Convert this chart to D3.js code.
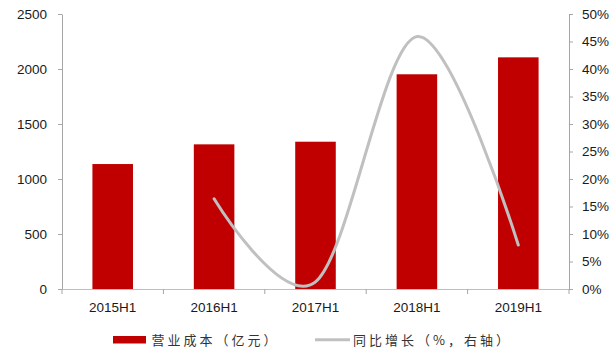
<!DOCTYPE html>
<html>
<head>
<meta charset="utf-8">
<script src="https://cdn.jsdelivr.net/npm/d3@7"></script>
<style>
  html, body { margin: 0; padding: 0; background: #fff; }
  svg { display: block; }
</style>
</head>
<body>
<svg id="chart" width="616" height="354"></svg>
<script>
// Half-year operating cost (亿元) and YoY growth (%)
const categories = ["2015H1", "2016H1", "2017H1", "2018H1", "2019H1"];
const costValues = [1136, 1315, 1339, 1952, 2106];
const growthCategories = ["2016H1", "2017H1", "2018H1", "2019H1"];
const growthValues = [16.4, 1.3, 45.9, 8.0];
const leftTicks = [0, 500, 1000, 1500, 2000, 2500];
const rightTicks = [0, 5, 10, 15, 20, 25, 30, 35, 40, 45, 50];
const legendLabels = ["营业成本（亿元）", "同比增长（%，右轴）"];

const svg = d3.select("#chart");
const plot = { left: 62, right: 569, top: 14, bottom: 289 };
const tickFont = "'Liberation Sans', Arial, sans-serif";

const x = d3.scaleBand().domain(categories).range([plot.left, plot.right]).padding(0);
const yL = d3.scaleLinear().domain([0, 2500]).range([plot.bottom, plot.top]);
const yR = d3.scaleLinear().domain([0, 50]).range([plot.bottom, plot.top]);

const barW = x.bandwidth() * 0.4;

// Bars
svg.append("g").selectAll("rect")
  .data(categories.map((c, i) => ({ c, v: costValues[i] })))
  .join("rect")
  .attr("x", d => x(d.c) + (x.bandwidth() - barW) / 2)
  .attr("y", d => yL(d.v))
  .attr("width", barW)
  .attr("height", d => yL(0) - yL(d.v))
  .attr("fill", "#c00000");

// X axis
const xAxis = svg.append("g")
  .attr("transform", `translate(0,${plot.bottom})`)
  .call(d3.axisBottom(x).tickSize(0).tickPadding(13));
xAxis.select(".domain").attr("stroke", "#bfbfbf").attr("stroke-width", 1.2);
xAxis.selectAll("text").attr("font-family", tickFont).attr("font-size", "13.5px").attr("fill", "#1a1a1a");
// category boundary ticks
svg.append("g").selectAll("line")
  .data(d3.range(categories.length + 1))
  .join("line")
  .attr("x1", i => plot.left + i * x.step())
  .attr("x2", i => plot.left + i * x.step())
  .attr("y1", plot.bottom)
  .attr("y2", plot.bottom + 5)
  .attr("stroke", "#a6a6a6");

// Left axis
const left = svg.append("g")
  .attr("transform", `translate(${plot.left},0)`)
  .call(d3.axisLeft(yL).tickValues(leftTicks).tickFormat(d3.format("d")).tickSize(4).tickPadding(11).tickSizeOuter(0));
left.select(".domain").attr("stroke", "#a6a6a6");
left.selectAll(".tick line").attr("stroke", "#a6a6a6");
left.selectAll("text").attr("font-family", tickFont).attr("font-size", "13.5px").attr("fill", "#1a1a1a");

// Right axis
const right = svg.append("g")
  .attr("transform", `translate(${plot.right},0)`)
  .call(d3.axisRight(yR).tickValues(rightTicks).tickFormat(d => d + "%").tickSize(4).tickPadding(9).tickSizeOuter(0));
right.select(".domain").attr("stroke", "#a6a6a6");
right.selectAll(".tick line").attr("stroke", "#a6a6a6");
right.selectAll("text").attr("font-family", tickFont).attr("font-size", "13.5px").attr("fill", "#1a1a1a");

// Growth line (smoothed)
const line = d3.line()
  .x((d, i) => x(growthCategories[i]) + x.bandwidth() / 2)
  .y(d => yR(d))
  .curve(d3.curveCardinal.tension(0));
svg.append("path")
  .datum(growthValues)
  .attr("d", line)
  .attr("fill", "none")
  .attr("stroke", "#c0c0c0")
  .attr("stroke-width", 3)
  .attr("stroke-linecap", "round");

// Legend
const cjkFont = "'Noto Sans CJK SC', sans-serif";
const lg = svg.append("g");
lg.append("rect").attr("x", 113).attr("y", 336).attr("width", 33).attr("height", 7.5).attr("fill", "#c00000");
lg.append("text").attr("x", 151.5).attr("y", 344.5).text(legendLabels[0])
  .attr("font-family", cjkFont).attr("font-size", "13px").attr("letter-spacing", "3px").attr("fill", "#333");
lg.append("line").attr("x1", 315).attr("x2", 350).attr("y1", 339.7).attr("y2", 339.7)
  .attr("stroke", "#c0c0c0").attr("stroke-width", 3);
lg.append("text").attr("x", 353).attr("y", 344.5).text(legendLabels[1])
  .attr("font-family", cjkFont).attr("font-size", "13px").attr("letter-spacing", "3px").attr("fill", "#333");
</script>
</body>
</html>
